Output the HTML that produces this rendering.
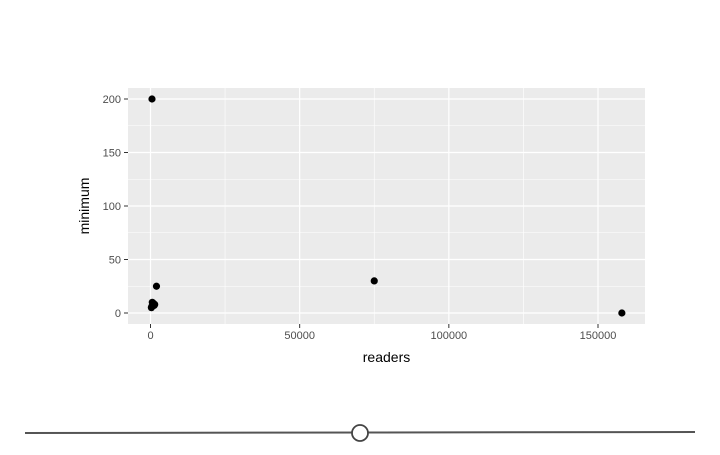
<!DOCTYPE html>
<html><head><meta charset="utf-8"><style>
body{margin:0;background:#fff;font-family:"Liberation Sans",sans-serif}
</style></head><body>
<svg width="720" height="450">
<g id="g"></g>
</svg>
<script>
const readers=[500,2000,300,900,600,1200,400,1000,1400,75000,158000];
const minimum=[200,25,5,8,10,7,6,9,8,30,0];
const xTicks=[0,50000,100000,150000];
const yTicks=[0,50,100,150,200];
const ns="http://www.w3.org/2000/svg";
const g=document.getElementById('g');
const L=128,R=645,T=88,B=324;
const X=v=>150.5+v*(598-150.5)/150000;
const Y=v=>313-v*(313-99)/200;
function el(t,a,txt){const e=document.createElementNS(ns,t);for(const k in a)e.setAttribute(k,a[k]);if(txt!=null)e.textContent=txt;g.appendChild(e);return e;}
let p=el('rect',{x:L,y:T,width:R-L,height:B-T,fill:'#ebebeb'});


for(let i=0;i<xTicks.length;i++){
  if(i<xTicks.length-1){const m=(xTicks[i]+xTicks[i+1])/2;el('line',{x1:X(m),x2:X(m),y1:T,y2:B,stroke:'#fff','stroke-width':0.6});}
}
for(let i=0;i<yTicks.length-1;i++){const m=(yTicks[i]+yTicks[i+1])/2;el('line',{x1:L,x2:R,y1:Y(m),y2:Y(m),stroke:'#fff','stroke-width':0.6});}
xTicks.forEach(v=>{
  el('line',{x1:X(v),x2:X(v),y1:T,y2:B,stroke:'#fff','stroke-width':1.2});
  el('line',{x1:X(v),x2:X(v),y1:B,y2:B+4,stroke:'#333'});
  const t=el('text',{x:X(v),y:B+15,'font-size':11,fill:'#4d4d4d','text-anchor':'middle'},v);
  
  
});
yTicks.forEach(v=>{
  el('line',{x1:L,x2:R,y1:Y(v),y2:Y(v),stroke:'#fff','stroke-width':1.2});
  el('line',{x1:L-4,x2:L,y1:Y(v),y2:Y(v),stroke:'#333'});
  const t=el('text',{x:L-7,y:Y(v)+4,'font-size':11,fill:'#4d4d4d','text-anchor':'end'},v);
  
  
});
readers.forEach((r,i)=>{
  const c=el('circle',{cx:X(r),cy:Y(minimum[i]),r:3.6,fill:'#000'});
  
  
});
let xt=el('text',{x:(L+R)/2,y:362,'font-size':14,fill:'#000','text-anchor':'middle'},'readers');


let yt=el('text',{x:0,y:0,'font-size':14,fill:'#000','text-anchor':'middle',transform:'translate(89,206) rotate(-90)'},'minimum');


let sl=el('line',{x1:25,x2:695,y1:433,y2:432,stroke:'#555','stroke-width':2});


let h=el('circle',{cx:360,cy:433,r:8,fill:'#fff',stroke:'#444','stroke-width':1.8});


</script>
</body></html>
